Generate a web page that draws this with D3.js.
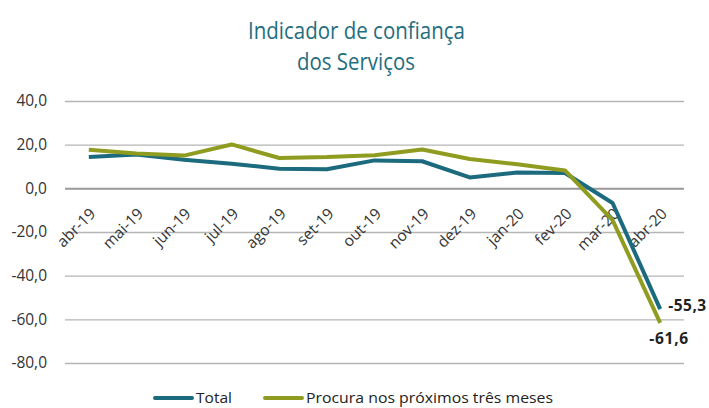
<!DOCTYPE html>
<html><head><meta charset="utf-8">
<script src="https://cdn.jsdelivr.net/npm/d3@7"></script>
<style>body{margin:0;background:#fff;} text{font-family:"Open Sans","Noto Sans",sans-serif;}</style>
</head><body>
<svg id="c" width="709" height="408"></svg>
<script>
const categories = ["abr-19","mai-19","jun-19","jul-19","ago-19","set-19","out-19","nov-19","dez-19","jan-20","fev-20","mar-20","abr-20"];
const totalValues = [14.3,15.5,13.1,11.3,9.0,8.7,12.8,12.4,5.0,7.2,7.0,-6.7,-55.3];
const procuraValues = [17.7,16.0,15.0,20.1,13.9,14.3,15.2,17.8,13.4,11.0,8.2,-14.6,-61.6];
const yTicks = [40,20,0,-20,-40,-60,-80];
const seriesNames = ["Total","Procura nos próximos três meses"];
const titleLines = ["Indicador de confiança","dos Serviços"];

const svg = d3.select("#c");
const tealC = "#1b6a7e", oliveC = "#8f9c20";
const x = d3.scaleBand().domain(categories).range([65,684]);
const y = d3.scaleLinear().domain([-80,40]).range([363,101]);
const cx = d => x(d) + x.bandwidth()/2;
const fmt = v => d3.format(".1f")(v).replace(".",",").replace("\u2212","-");

// title (one text, two lines)
const title = svg.append("text").attr("text-anchor","middle").attr("fill","#1f6e7e").attr("font-size",23);
title.append("tspan").attr("x",356.5).attr("y",38.5).attr("textLength",217).attr("lengthAdjust","spacingAndGlyphs").text(titleLines[0]);
title.append("tspan").attr("x",356).attr("y",70).attr("textLength",118).attr("lengthAdjust","spacingAndGlyphs").text(titleLines[1]);

// grid
const yAxis = d3.axisLeft(y).tickValues(yTicks).tickSize(-(684-65)).tickFormat(fmt);
const ga = svg.append("g").attr("transform","translate(65,0)").call(yAxis);
ga.select(".domain").remove();
ga.selectAll(".tick line").attr("stroke",d=>d===0?"#999":"#b5b5b5").attr("stroke-width",d=>d===0?2:1.4);
ga.selectAll(".tick text").attr("x",-18).attr("fill","#333").attr("font-size",15.5).style("font-family","'Open Sans',sans-serif");

// x labels
svg.append("g").selectAll("text").data(categories).join("text")
  .attr("transform",d=>`translate(${cx(d)},${207}) rotate(-45)`)
  .attr("text-anchor","end").attr("dy","0.71em").attr("fill","#333").attr("font-size",15.5).text(d=>d);

// lines
const line = d3.line().x((d,i)=>cx(categories[i])).y(d=>y(d));
svg.append("path").datum(totalValues).attr("d",line).attr("fill","none").attr("stroke",tealC).attr("stroke-width",4).attr("stroke-linejoin","round");
svg.append("path").datum(procuraValues).attr("d",line).attr("fill","none").attr("stroke",oliveC).attr("stroke-width",4).attr("stroke-linejoin","round");

// data labels
const last = categories.length-1;
svg.append("text").attr("x",cx(categories[last])+8).attr("y",y(totalValues[last])+2)
  .attr("font-size",15.5).attr("font-weight","bold").attr("fill","#222").attr("textLength",38).text(fmt(totalValues[last]));
svg.append("text").attr("x",cx(categories[last])-11).attr("y",y(procuraValues[last])+21)
  .attr("font-size",15.5).attr("font-weight","bold").attr("fill","#222").attr("textLength",39).text(fmt(procuraValues[last]));

// legend
const leg = [{n:seriesNames[0],c:tealC,x:155,w:36},{n:seriesNames[1],c:oliveC,x:265,w:247}];
leg.forEach(l=>{
  svg.append("line").attr("x1",l.x).attr("x2",l.x+37).attr("y1",398).attr("y2",398).attr("stroke",l.c).attr("stroke-width",4).attr("stroke-linecap","round");
  svg.append("text").attr("x",l.x+41).attr("y",403).attr("font-size",15).attr("fill","#222").attr("textLength",l.w).attr("lengthAdjust","spacingAndGlyphs").text(l.n);
});
</script>
</body></html>
